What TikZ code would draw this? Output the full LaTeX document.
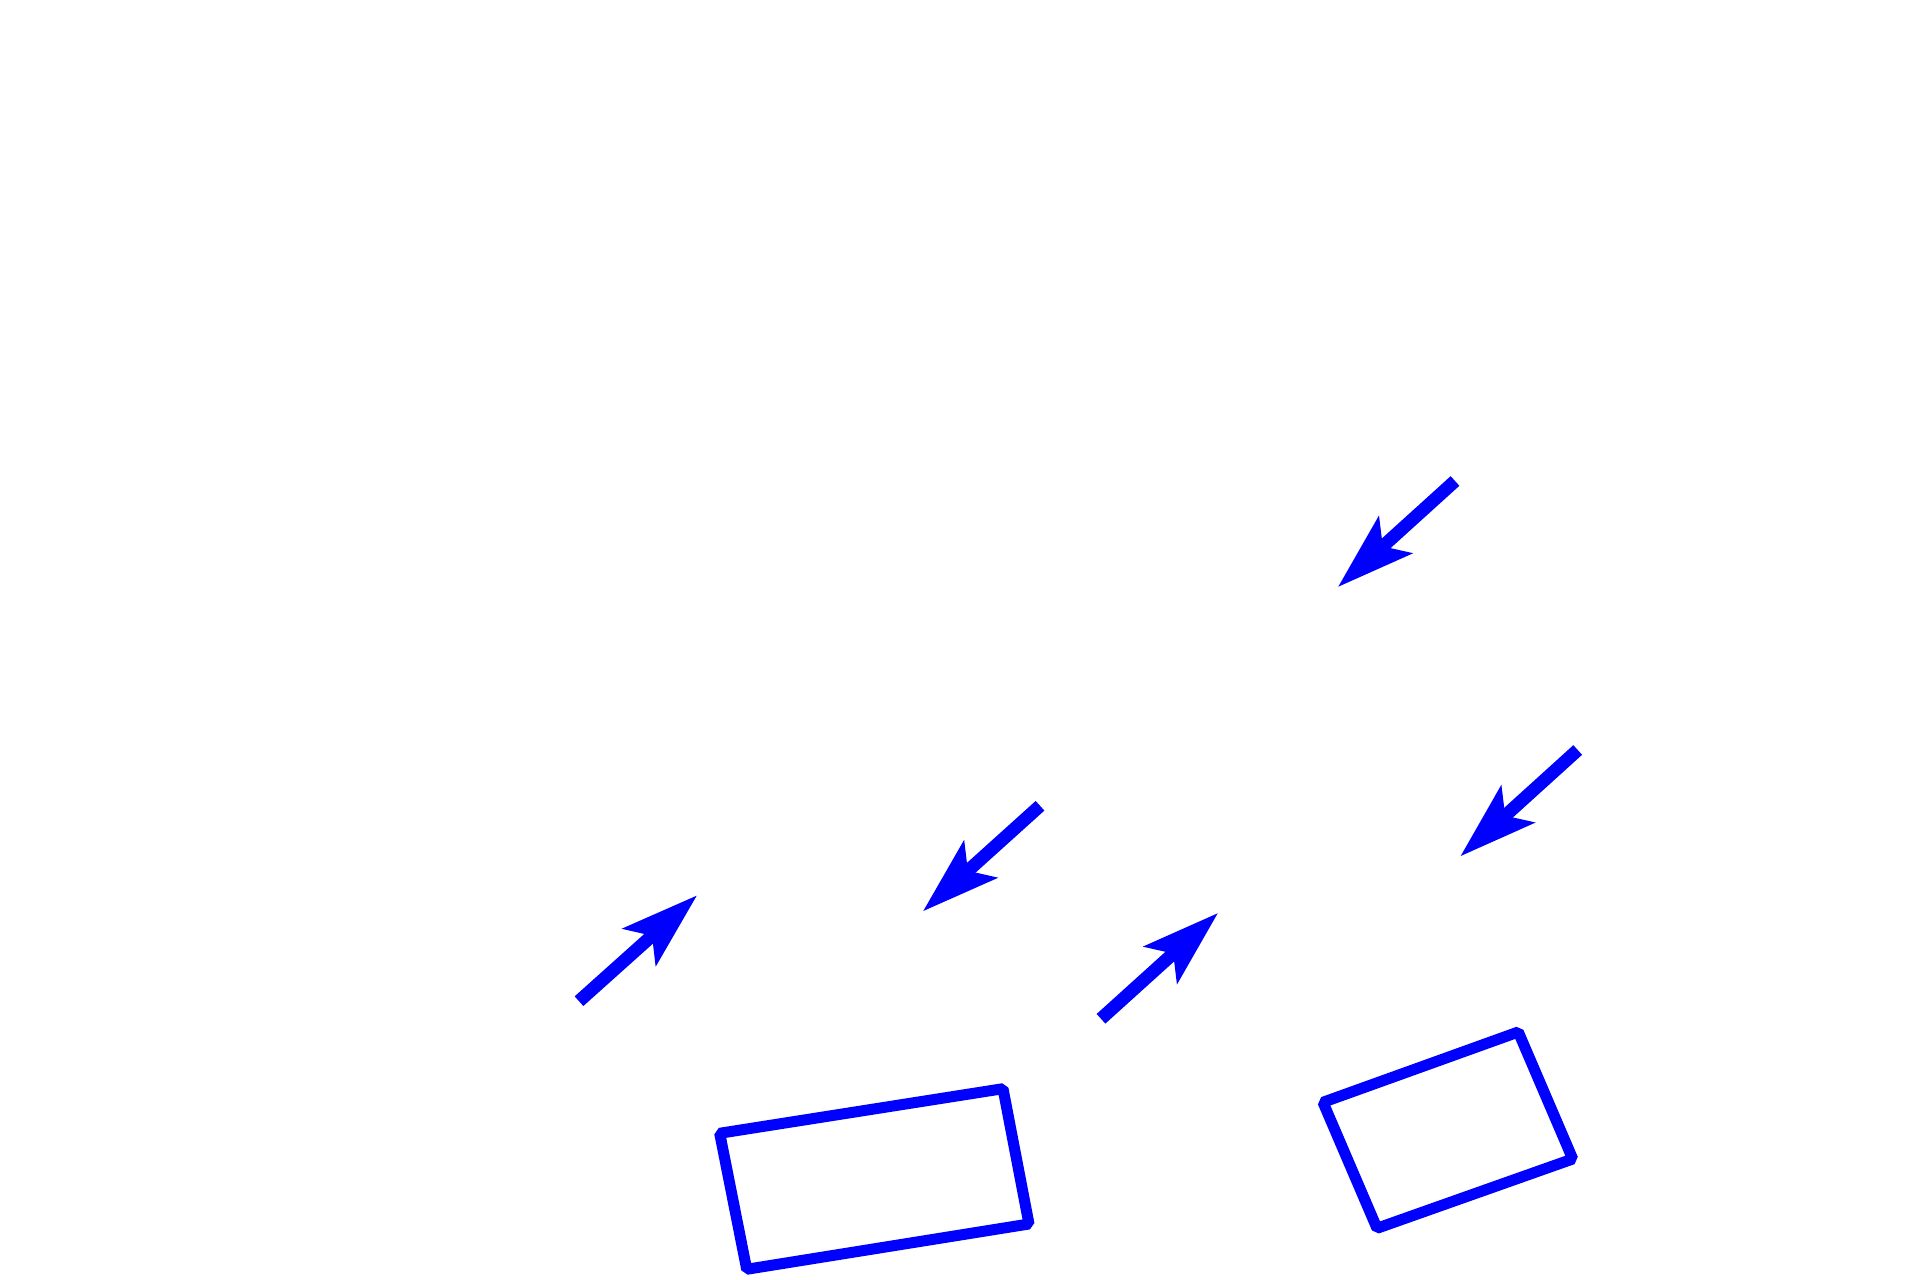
\documentclass[tikz,border=0pt]{standalone}
\usetikzlibrary{arrows.meta}
\begin{document}
\begin{tikzpicture}[
    pointer/.style ={draw=blue, line width=1.3mm, -{Stealth[length=7.8mm, width=5.1mm, inset=1.8mm, line width=0pt]}},
    frame/.style ={draw=blue, line width=1.1mm, line join=bevel}]
   \useasboundingbox (0,0) rectangle (19.2,12.8);

   \coordinate (A1) at (14.55,7.99);
   \coordinate (A2) at (13.383,6.933);
   \coordinate (B1) at (15.777,5.30);
   \coordinate (B2) at (14.607,4.24);
   \coordinate (C1) at (10.40,4.742);
   \coordinate (C2) at (9.233,3.69);
   \coordinate (D1) at (5.79,2.788);
   \coordinate (D2) at (6.967,3.843);
   \coordinate (E1) at (11.01,2.612);
   \coordinate (E2) at (12.177,3.667);

   \coordinate (P1) at (7.197,1.467);
   \coordinate (P2) at (10.03,1.913);
   \coordinate (P3) at (10.29,0.56);
   \coordinate (P4) at (7.467,0.107);
   \coordinate (Q1) at (13.23,1.777);
   \coordinate (Q2) at (15.183,2.48);
   \coordinate (Q3) at (15.727,1.21);
   \coordinate (Q4) at (13.77,0.517);

   \draw[pointer] (A1) to  (A2);
   \draw[pointer] (B1) to  (B2);
   \draw[pointer] (C1) to  (C2);
   \draw[pointer] (D1) to  (D2);
   \draw[pointer] (E1) to  (E2);

   \draw[frame] (P1) -- (P2) -- (P3) -- (P4) -- cycle;
   \draw[frame] (Q1) -- (Q2) -- (Q3) -- (Q4) -- cycle;

 \end{tikzpicture}
\end{document}
